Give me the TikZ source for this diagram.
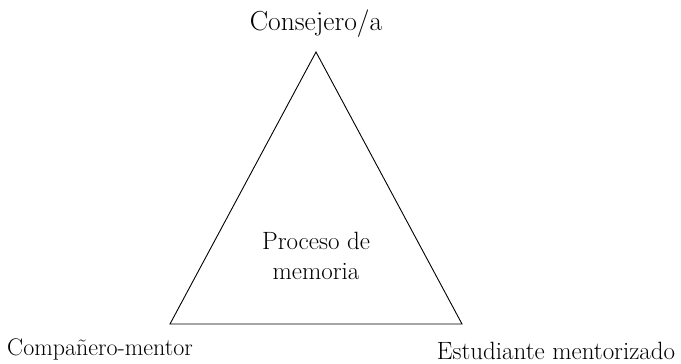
\documentclass[tikz,border=0pt]{standalone}
\usepackage{tikz}

\begin{document}
\begin{tikzpicture}[x=1pt,y=1pt,lbl/.style={font=\fontsize{25}{30}\selectfont,align=center,inner sep=0pt}]
\useasboundingbox(0,0)rectangle(681,364);
\coordinate(top)at(316,312);\coordinate(left)at(170,40);\coordinate(right)at(462,40);
\draw[line width=.9pt,line join=miter](top)--(left)--(right)--cycle;
\node[lbl,font=\fontsize{27.5}{32}\selectfont](consejero)at(316,340){Consejero/a};
\node[lbl](proceso)at(316,108){Proceso de\\memoria};
\node[lbl,font=\fontsize{24}{30}\selectfont](companero)at(100,15){Compañero-mentor};
\node[lbl](estudiante)at(556,13){Estudiante mentorizado};
\end{tikzpicture}
\end{document}
